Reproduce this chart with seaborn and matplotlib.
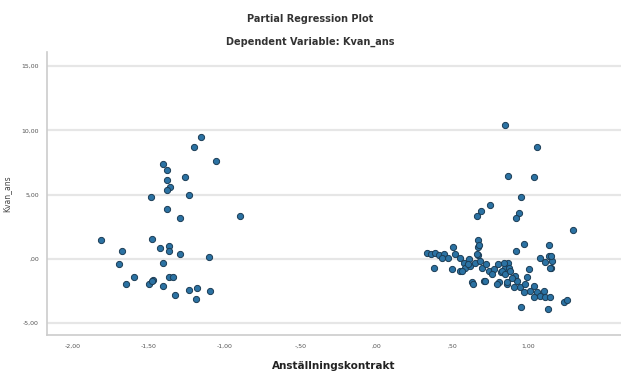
import numpy as np
import seaborn as sns
import pandas as pd
import matplotlib.pyplot as plt
from matplotlib.ticker import FixedLocator, FuncFormatter


# Points (x = Anställningskontrakt residual, y = Kvan_ans residual)
left_x = [-1.154, -1.202, -1.061, -1.404, -1.378, -1.259, -1.382, -1.360, -1.378, -1.485,
          -1.239, -1.382, -1.294, -0.898, -1.817, -1.479, -1.676, -1.426, -1.365, -1.365,
          -1.294, -1.105, -1.698, -1.408, -1.597, -1.365, -1.338, -1.650, -1.500, -1.470,
          -1.408, -1.325, -1.233, -1.184, -1.189, -1.096, -1.480]
left_y = [9.52, 8.74, 7.63, 7.37, 6.90, 6.33, 6.17, 5.60, 5.34, 4.82,
          4.93, 3.84, 3.21, 3.35, 1.48, 1.56, 0.62, 0.86, 1.01, 0.62,
          0.34, 0.16, -0.41, -0.31, -1.45, -1.45, -1.38, -1.97, -1.97, -1.66,
          -2.15, -2.80, -2.44, -2.28, -3.14, -2.54, -1.71]

right_x = [0.846, 1.057, 0.864, 1.035, 0.954, 0.750, 0.690, 0.662, 0.936, 0.919,
           1.297, 0.666, 0.969, 1.136, 0.921, 0.666, 0.666, 1.079, 1.136, 1.156,
           1.152, 0.954, 1.127, 1.233, 1.255,
           0.332, 0.358, 0.387, 0.409, 0.442, 0.380, 0.503, 0.519, 0.552, 0.574,
           0.585, 0.552, 0.607, 0.618, 0.651, 0.673, 0.662, 0.684, 0.695, 0.723,
           0.738, 0.771, 0.798, 0.820, 0.848, 0.864, 0.629, 0.706, 0.805, 0.497,
           0.563, 0.635, 0.712, 0.794, 0.860,
           1.112, 1.150, 1.145, 0.837, 0.870, 0.827, 0.848, 0.881, 0.914, 0.859,
           0.925, 0.947, 0.980, 1.002, 0.991, 1.013, 1.035, 1.057, 1.079, 1.101,
           1.112, 1.145, 1.035, 0.969, 0.903, 0.470, 0.430, 0.600, 0.760, 0.890]
right_y = [10.40, 8.72, 6.43, 6.33, 4.80, 4.20, 3.74, 3.32, 3.53, 3.21,
           2.28, 1.46, 1.14, 1.07, 0.62, 0.88, 0.31, 0.10, 0.18, -0.16,
           -0.72, -3.74, -3.87, -3.40, -3.19,
           0.44, 0.36, 0.44, 0.29, 0.41, -0.68, 0.88, 0.36, 0.10, -0.29,
           -0.68, -0.93, -0.03, -0.54, -0.29, 1.09, 0.36, -0.16, -0.68, -0.41,
           -0.93, -0.80, -0.41, -0.99, -0.68, -0.29, -1.84, -1.71, -1.84, -0.80,
           -0.93, -1.97, -1.71, -1.97, -1.97,
           -0.23, 0.23, -0.75, -0.29, -0.68, -0.93, -1.19, -0.93, -1.32, -1.84,
           -1.71, -2.23, -1.97, -0.80, -1.45, -2.49, -2.10, -2.62, -2.88, -2.49,
           -3.01, -3.01, -3.01, -2.62, -2.23, 0.10, 0.05, -0.40, -1.20, -1.50]

x_ticks = [-2.0, -1.5, -1.0, -0.5, 0.0, 0.5, 1.0]
y_ticks = [-5.0, 0.0, 5.0, 10.0, 15.0]

df = pd.DataFrame({'x': left_x + right_x, 'y': left_y + right_y})


def sv_fmt(v, pos):
    s = f'{v:.2f}'.replace('.', ',')
    return s.replace('0,', ',', 1) if abs(v) < 1 else s


sns.set_style('white')
fig = plt.figure(figsize=(6.21, 3.74), dpi=100)
ax = fig.add_axes([0.076, 0.104, 0.924, 0.757])

sns.scatterplot(data=df, x='x', y='y', ax=ax, s=20, color='#2b72a3',
                edgecolor='#1b3c55', linewidth=0.7, zorder=3)

ax.set_xlim(-2.17, 1.61)
ax.set_ylim(-5.94, 16.1)
ax.xaxis.set_major_locator(FixedLocator(x_ticks))
ax.yaxis.set_major_locator(FixedLocator(y_ticks))
ax.xaxis.set_major_formatter(FuncFormatter(sv_fmt))
ax.yaxis.set_major_formatter(FuncFormatter(sv_fmt))
ax.tick_params(labelsize=4.5, colors='#555555', length=0, pad=6)

ax.grid(axis='y', color='#e6e6e6', linewidth=1.6)
ax.set_axisbelow(True)
for side in ['top', 'right']:
    ax.spines[side].set_visible(False)
for side in ['left', 'bottom']:
    ax.spines[side].set_color('#cccccc')
    ax.spines[side].set_linewidth(1.2)

ax.set_xlabel('Anställningskontrakt', fontsize=7.5, color='#222222',
              fontweight='semibold', labelpad=9)
ax.set_ylabel('Kvan_ans', fontsize=5.5, color='#444444')
ax.yaxis.set_label_coords(-0.062, 0.5)

fig.text(0.5, 0.94, 'Partial Regression Plot', ha='center', fontsize=7,
         color='#333333', fontweight='semibold')
fig.text(0.5, 0.88, 'Dependent Variable: Kvan_ans', ha='center', fontsize=7,
         color='#333333', fontweight='semibold')

plt.savefig('out.png', dpi=100)
